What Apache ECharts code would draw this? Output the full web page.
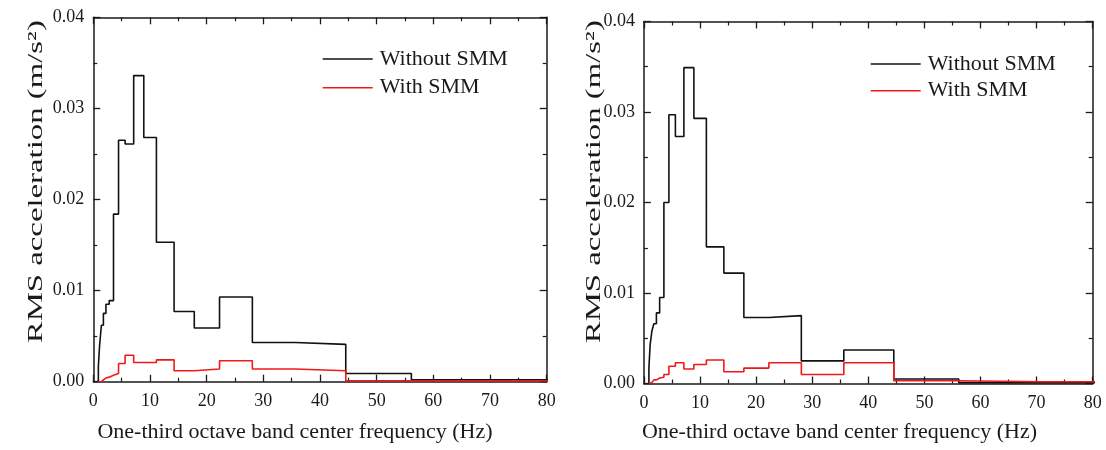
<!DOCTYPE html>
<html>
<head>
<meta charset="utf-8">
<script src="https://cdn.jsdelivr.net/npm/echarts@6/dist/echarts.min.js"></script>
<style>
  html, body { margin: 0; padding: 0; background: #fff; }
  #chart { width: 1106px; height: 450px; }
</style>
</head>
<body>
<div id="chart"></div>
<script>
// One-third octave band centre frequencies (Hz)
const bands = [1, 1.25, 1.6, 2, 2.5, 3.15, 4, 5, 6.3, 8, 10, 12.5, 16, 20, 25, 31.5, 40, 50, 63, 80];

// RMS acceleration per band (m/s^2), first floor response
const leftWithout = [0.0017, 0.0040, 0.0062, 0.0075, 0.0085, 0.0089, 0.0184, 0.0265, 0.0261, 0.0336,
                     0.0268, 0.0153, 0.0077, 0.0059, 0.0093, 0.0043, 0.0041, 0.0009, 0.0002, 0.0002];
const leftWith    = [0.0000, 0.0000, 0.0002, 0.0004, 0.0005, 0.0007, 0.0009, 0.0020, 0.0029, 0.0021,
                     0.0021, 0.0024, 0.0012, 0.0014, 0.0023, 0.0014, 0.0012, 0.0001, 0.0001, 0.0001];

// RMS acceleration per band (m/s^2), second floor response
const rightWithout = [0.0017, 0.0043, 0.0058, 0.0066, 0.0078, 0.0095, 0.0200, 0.0297, 0.0273, 0.0349,
                      0.0293, 0.0151, 0.0122, 0.0073, 0.0075, 0.0025, 0.0037, 0.0005, 0.0001, 0.0001];
const rightWith    = [0.0000, 0.0001, 0.0003, 0.0004, 0.0006, 0.0007, 0.0010, 0.0019, 0.0023, 0.0016,
                      0.0021, 0.0026, 0.0013, 0.0017, 0.0023, 0.0010, 0.0023, 0.0003, 0.0002, 0.0002];

const seriesNames = ['Without SMM', 'With SMM'];
const xTicks = { min: 0, max: 80, interval: 10 };
const yTicks = { min: 0, max: 0.04, interval: 0.01 };
const xTitle = 'One-third octave band center frequency (Hz)';
const yTitle = 'RMS acceleration (m/s\u00B2)';

const FONT = '"Liberation Serif", "Times New Roman", serif';
const INK = '#1a1a1a';

// Each band becomes a flat step spanning its lower to upper band edge.
const half = Math.pow(2, 1 / 6);
function stepPoints(values) {
  const pts = [[bands[0] / half, 0]];
  bands.forEach((fc, i) => pts.push([fc / half, values[i]]));
  const last = bands.length - 1;
  pts.push([bands[last] * half, values[last]]);
  return pts;
}

const grids = [
  { left: 93.3, top: 17.3, width: 453.4, height: 364.4 },
  { left: 643.9, top: 21.5, width: 448.8, height: 362.0 }
];

function frameAxis(kind, gridIndex, position, labelled) {
  const base = kind === 'x' ? xTicks : yTicks;
  return {
    type: 'value',
    gridIndex: gridIndex,
    position: position,
    min: base.min,
    max: base.max,
    interval: base.interval,
    axisLine: { show: true, onZero: false, lineStyle: { color: INK, width: 1.5 } },
    axisTick: { show: true, inside: true, length: 7, lineStyle: { color: INK, width: 1.3 } },
    minorTick: { show: true, splitNumber: 2, length: 4, lineStyle: { color: INK, width: 1.2 } },
    splitLine: { show: false },
    minorSplitLine: { show: false },
    axisLabel: {
      show: labelled,
      color: INK,
      fontFamily: FONT,
      fontSize: 18,
      margin: kind === 'x' ? 11 : 9,
      formatter: kind === 'x' ? (v) => String(Math.round(v)) : (v) => v.toFixed(2)
    }
  };
}

const xAxes = [
  frameAxis('x', 0, 'bottom', true),
  frameAxis('x', 0, 'top', false),
  frameAxis('x', 1, 'bottom', true),
  frameAxis('x', 1, 'top', false)
];
const yAxes = [
  frameAxis('y', 0, 'left', true),
  frameAxis('y', 0, 'right', false),
  frameAxis('y', 1, 'left', true),
  frameAxis('y', 1, 'right', false)
];

function stepSeries(name, values, color, axisIndex) {
  return {
    name: name,
    type: 'line',
    step: 'end',
    xAxisIndex: axisIndex,
    yAxisIndex: axisIndex,
    data: stepPoints(values),
    symbol: 'none',
    clip: true,
    itemStyle: { color: color },
    lineStyle: { color: color, width: 1.6 }
  };
}

const series = [
  stepSeries(seriesNames[0], leftWithout, '#111111', 0),
  stepSeries(seriesNames[1], leftWith, '#ee1a1a', 0),
  stepSeries(seriesNames[0], rightWithout, '#111111', 2),
  stepSeries(seriesNames[1], rightWith, '#ee1a1a', 2)
];

function legendAt(left, top, gap) {
  return {
    left: left,
    top: top,
    padding: 0,
    orient: 'vertical',
    selectedMode: false,
    icon: 'rect',
    itemWidth: 50,
    itemHeight: 1.6,
    itemGap: gap,
    data: seriesNames,
    textStyle: { color: INK, fontFamily: FONT, fontSize: 22, lineHeight: 24, padding: [0, 0, 0, 2] }
  };
}

// Axis titles
const ctx = document.createElement('canvas').getContext('2d');
ctx.font = '22px ' + FONT;
const yTitleWidth = ctx.measureText(yTitle).width;
const yTitleStretch = 323 / yTitleWidth;

function titleText(x, y, text, vertical) {
  return {
    type: 'text',
    x: x,
    y: y,
    rotation: vertical ? Math.PI / 2 : 0,
    scaleX: vertical ? yTitleStretch : 1,
    style: {
      text: text,
      fill: INK,
      font: '22px ' + FONT,
      align: 'center',
      verticalAlign: 'middle'
    },
    silent: true
  };
}

const chart = echarts.init(document.getElementById('chart'), null, { renderer: 'canvas' });
chart.setOption({
  backgroundColor: '#ffffff',
  animation: false,
  grid: grids,
  xAxis: xAxes,
  yAxis: yAxes,
  legend: [legendAt(322.7, 47, 4.7), legendAt(870.7, 52, 2.7)],
  series: series,
  graphic: [
    titleText(295, 432, xTitle, false),
    titleText(839.5, 432, xTitle, false),
    titleText(36, 181.7, yTitle, true),
    titleText(594, 181.7, yTitle, true)
  ]
});
</script>
</body>
</html>
